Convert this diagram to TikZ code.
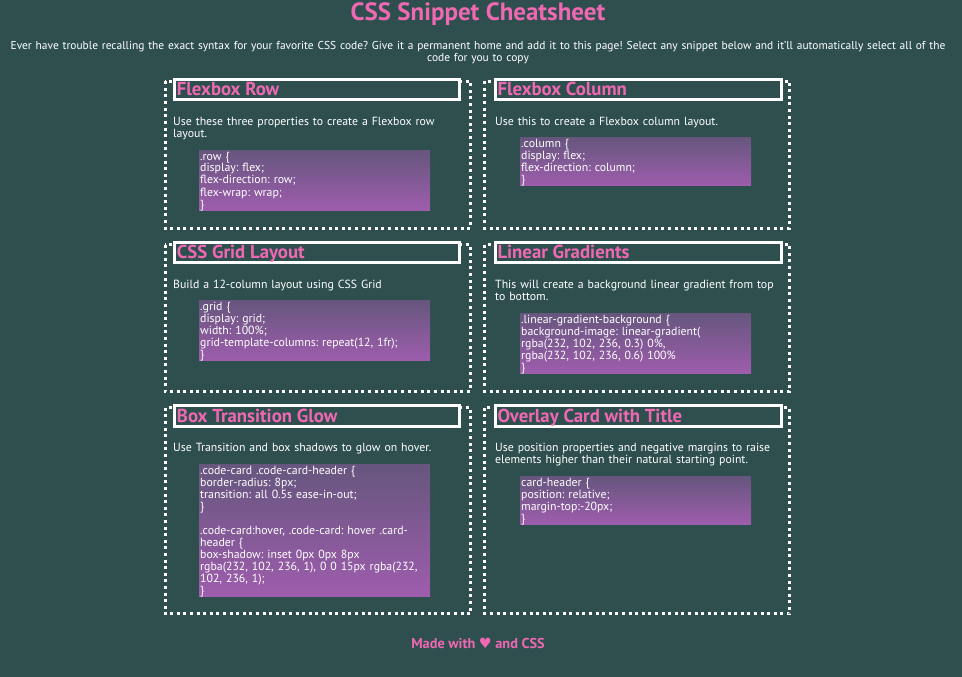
\documentclass[tikz,border=0pt]{standalone}
\usepackage{fontspec}
\setmainfont{PT Sans}
\newfontfamily\symfont{DejaVu Sans}
\frenchspacing
\definecolor{bg}{RGB}{47,79,79}
\definecolor{pink}{RGB}{238,104,178}
\definecolor{codetop}{RGB}{102,86,126}
\definecolor{codebot}{RGB}{158,93,173}
\tikzset{
  card/.style={draw=white, line width=3pt, dash pattern=on 3pt off 3.6pt},
  hdrbox/.style={draw=white, fill=bg, line width=3pt},
  hdrtxt/.style={anchor=base west, inner sep=0pt, text=pink, font=\fontsize{18.8}{20}\selectfont\bfseries},
  desc/.style={anchor=base west, inner sep=0pt, text=white, font=\frenchspacing\fontsize{11.8}{12.3}\selectfont, align=left, text width=330pt},
  codebox/.style={top color=codetop, bottom color=codebot, draw=none},
  codetxt/.style={anchor=base west, inner sep=0pt, text=white, font=\frenchspacing\fontsize{11.8}{12}\selectfont, align=left, text width=260pt},
}
\begin{document}
\begin{tikzpicture}[x=1pt,y=-1pt]
\fill[bg] (0,0) rectangle (962,677);
\useasboundingbox (0,0) rectangle (962,677);

\node[anchor=base, inner sep=0pt, text=pink, font=\fontsize{25}{27}\selectfont\bfseries] (title) at (478,20.5) {CSS Snippet Cheatsheet};
\node[anchor=base, inner sep=0pt, text=white, font=\frenchspacing\fontsize{11.45}{11.5}\selectfont, align=center, text width=990pt] (sub) at (478,50) {Ever have trouble recalling the exact syntax for your favorite CSS code? Give it a permanent home and add it to this page! Select any snippet below and it'll automatically select all of the\\code for you to copy};

% ---------- Row 1 left: Flexbox Row
\draw[card] (165,81.3) rectangle (470.5,228);
\draw[hdrbox] (174.2,79.2) rectangle (459.5,99.5);
\node[hdrtxt] (h1) at (176.7,95.7) {Flexbox Row};
\node[desc] (d1) at (173,125) {Use these three properties to create a Flexbox row\\layout.};
\fill[codebox] (199,150) rectangle (430,210);
\node[codetxt] (c1) at (200,160) {.row \{\\display: flex;\\flex-direction: row;\\flex-wrap: wrap;\\\}};

% ---------- Row 1 right: Flexbox Column
\draw[card] (484.7,81.3) rectangle (789.7,228);
\draw[hdrbox] (495.5,79.2) rectangle (781.5,99.5);
\node[hdrtxt] (h2) at (497.3,95.7) {Flexbox Column};
\node[desc] (d2) at (495,125) {Use this to create a Flexbox column layout.};
\fill[codebox] (520,137.7) rectangle (751,185.7);
\node[codetxt] (c2) at (521,147.7) {.column \{\\display: flex;\\flex-direction: column;\\\}};

% ---------- Row 2 left: CSS Grid Layout
\draw[card] (165,244.5) rectangle (470.5,391.3);
\draw[hdrbox] (174.2,242.4) rectangle (459.5,262.7);
\node[hdrtxt] (h3) at (176.7,258.9) {CSS Grid Layout};
\node[desc] (d3) at (173,288.2) {Build a 12-column layout using CSS Grid};
\fill[codebox] (199,300.9) rectangle (430,360.9);
\node[codetxt] (c3) at (200,310.9) {.grid \{\\display: grid;\\width: 100\%;\\grid-template-columns: repeat(12, 1fr);\\\}};

% ---------- Row 2 right: Linear Gradients
\draw[card] (484.7,244.5) rectangle (789.7,391.3);
\draw[hdrbox] (495.5,242.4) rectangle (781.5,262.7);
\node[hdrtxt] (h4) at (497.3,258.9) {Linear Gradients};
\node[desc] (d4) at (495,288.2) {This will create a background linear gradient from top\\to bottom.};
\fill[codebox] (520,313.2) rectangle (751,373.2);
\node[codetxt] (c4) at (521,323.2) {.linear-gradient-background \{\\background-image: linear-gradient(\\rgba(232, 102, 236, 0.3) 0\%,\\rgba(232, 102, 236, 0.6) 100\%\\\}};

% ---------- Row 3 left: Box Transition Glow
\draw[card] (165,407.8) rectangle (470.5,613.8);
\draw[hdrbox] (174.2,405.7) rectangle (459.5,426);
\node[hdrtxt] (h5) at (176.7,422.2) {Box Transition Glow};
\node[desc] (d5) at (173,451.5) {Use Transition and box shadows to glow on hover.};
\fill[codebox] (199,464.2) rectangle (430,596.2);
\node[codetxt] (c5) at (200,474.2) {.code-card .code-card-header \{\\border-radius: 8px;\\transition: all 0.5s ease-in-out;\\\}\\[12pt].code-card:hover, .code-card: hover .card-\\header \{\\box-shadow: inset 0px 0px 8px\\rgba(232, 102, 236, 1), 0 0 15px rgba(232,\\102, 236, 1);\\\}};

% ---------- Row 3 right: Overlay Card with Title
\draw[card] (484.7,407.8) rectangle (789.7,613.8);
\draw[hdrbox] (495.5,405.7) rectangle (781.5,426);
\node[hdrtxt] (h6) at (497.3,422.2) {Overlay Card with Title};
\node[desc] (d6) at (495,451.5) {Use position properties and negative margins to raise\\elements higher than their natural starting point.};
\fill[codebox] (520,476.5) rectangle (751,524.5);
\node[codetxt] (c6) at (521,486.5) {card-header \{\\position: relative;\\margin-top:-20px;\\\}};

\node[anchor=base, inner sep=0pt, text=pink, font=\fontsize{14.3}{16}\selectfont\bfseries] (footer) at (478,648) {Made with {\symfont ♥} and CSS};
\end{tikzpicture}
\end{document}
